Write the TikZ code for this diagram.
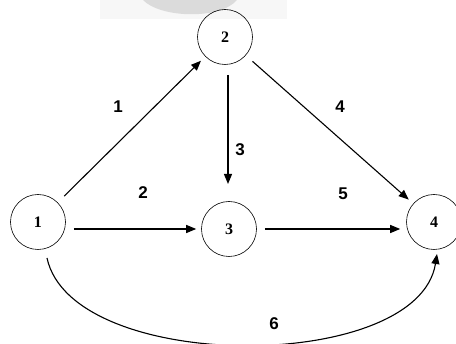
\documentclass[tikz,border=0pt]{standalone}
\usepackage{fontspec}
\setmainfont{Liberation Serif}
\setsansfont{Liberation Sans}
\usetikzlibrary{arrows.meta}
\tikzset{
  event/.style={draw, circle, line width=0.6pt, minimum size=55pt, inner sep=0pt,
                font=\bfseries\fontsize{16}{18}\selectfont},
  act/.style={-{Triangle[length=10pt, width=8pt]}, line width=1.1pt,
              shorten <=9pt, shorten >=6pt},
  actlbl/.style={font=\sffamily\bfseries\fontsize{17}{19}\selectfont},
}

\begin{document}
\begin{tikzpicture}[x=1pt, y=-1pt]
  \useasboundingbox (0,0) rectangle (456,344);
  % faint smudge at the top edge
  \fill[gray!6] (100,0) rectangle (287,19);
  \fill[gray!28] (143,0) .. controls (160,18) and (220,20) .. (237,0) -- cycle;

  \node[event] (n1) at (38,222)  {1};
  \node[event] (n2) at (225,37)  {2};
  \node[event] (n3) at (229,229) {3};
  \node[event] (n4) at (434,222) {4};

  \coordinate (s6) at (47,258);
  \coordinate (e6) at (437,254);
  \coordinate (s3) at (228,75);
  \coordinate (e3) at (228,184);

  \draw[act] (n1) -- (n2);
  \draw[act, shorten <=8pt, shorten >=5pt] (n1.east |- n3) -- (n3.west);
  \draw[act, shorten <=0pt, shorten >=0pt] (s3) -- (e3);
  \draw[act] (n2) -- (n4);
  \draw[act, shorten <=8pt, shorten >=6pt] (n3.east) -- (n4.west |- n3);
  \draw[act, shorten <=0pt, shorten >=0pt]
    (s6) .. controls (72,374) and (418,374) .. (e6);

  \node[actlbl] (l1) at (118,107) {1};
  \node[actlbl] (l2) at (143,193) {2};
  \node[actlbl] (l3) at (240,150) {3};
  \node[actlbl] (l4) at (340,107) {4};
  \node[actlbl] (l5) at (343,194) {5};
  \node[actlbl] (l6) at (274,324) {6};
\end{tikzpicture}
\end{document}
